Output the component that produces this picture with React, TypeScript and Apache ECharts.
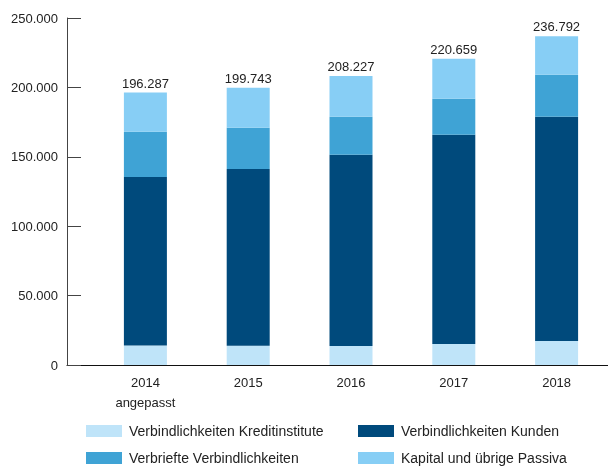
import React, { useEffect, useRef } from "react";
import * as echarts from "echarts";

const categories = ["2014\nangepasst", "2015", "2016", "2017", "2018"];
const seriesNames = [
  "Verbindlichkeiten Kreditinstitute",
  "Verbindlichkeiten Kunden",
  "Verbriefte Verbindlichkeiten",
  "Kapital und übrige Passiva",
];
const kreditinstitute = [14000, 13900, 13700, 15100, 17300];
const kunden = [121500, 127400, 137700, 150700, 161500];
const verbriefte = [32500, 29600, 27400, 26000, 30300];
const kapital = [28287, 28843, 29427, 28859, 27692];
const totals = [196287, 199743, 208227, 220659, 236792];
const yTicks = [0, 50000, 100000, 150000, 200000, 250000];
const colors = ["#bfe4f9", "#004a7c", "#3fa3d5", "#87cef5"];

const FONT = "'Liberation Sans', Arial, sans-serif";
const fmt = (v: number) =>
  String(Math.round(v)).replace(/\B(?=(\d{3})+(?!\d))/g, ".");

export default function App() {
  const ref = useRef<HTMLDivElement>(null);
  useEffect(() => {
    if (!ref.current) return;
    const chart = echarts.init(ref.current, undefined, { renderer: "svg" });
    const data = [kreditinstitute, kunden, verbriefte, kapital];
    const legendBase = {
      top: 424,
      height: 60,
      width: 260,
      orient: "vertical",
      icon: "rect",
      itemWidth: 36,
      itemHeight: 12,
      itemGap: 13,
      padding: 0,
      textStyle: { fontSize: 14, color: "#222", fontFamily: FONT, padding: [0, 0, 0, 2] },
    };
    chart.setOption({
      animation: false,
      textStyle: { fontFamily: FONT },
      grid: [
        { left: 94, width: 522, top: 18, bottom: 101 },
        { left: 67, width: 541, top: 18, bottom: 101 },
      ],
      legend: [
        { ...legendBase, left: 86, data: [seriesNames[0], seriesNames[2]] },
        { ...legendBase, left: 358, data: [seriesNames[1], seriesNames[3]] },
      ],
      xAxis: [
        {
          type: "category",
          gridIndex: 0,
          data: categories,
          axisLine: { show: false },
          axisTick: { show: false },
          axisLabel: {
            fontSize: 13,
            color: "#222",
            lineHeight: 20,
            margin: 7,
            fontFamily: FONT,
          },
        },
        {
          type: "value",
          gridIndex: 1,
          min: 0,
          max: 1,
          axisLine: { show: true, lineStyle: { color: "#111", width: 1 } },
          axisTick: { show: false },
          axisLabel: { show: false },
          splitLine: { show: false },
        },
      ],
      yAxis: [
        {
          type: "value",
          gridIndex: 0,
          min: 0,
          max: 250000,
          interval: 50000,
          show: false,
          splitLine: { show: false },
        },
        {
          type: "value",
          gridIndex: 1,
          min: yTicks[0],
          max: yTicks[yTicks.length - 1],
          interval: 50000,
          axisLine: { show: true, lineStyle: { color: "#444", width: 1 } },
          axisTick: { show: true, inside: true, length: 14, lineStyle: { color: "#444" } },
          splitLine: { show: false },
          axisLabel: {
            fontSize: 13,
            color: "#222",
            margin: 9,
            fontFamily: FONT,
            formatter: (v: number) => fmt(v),
          },
        },
      ],
      series: seriesNames.map((name, i) => ({
        name,
        type: "bar",
        stack: "total",
        xAxisIndex: 0,
        yAxisIndex: 0,
        barWidth: 43,
        data: data[i],
        itemStyle: { color: colors[i] },
        label:
          i === 3
            ? {
                show: true,
                position: "top",
                distance: 3,
                fontSize: 13,
                color: "#222",
                fontFamily: FONT,
                formatter: (p: any) => fmt(totals[p.dataIndex]),
              }
            : { show: false },
      })),
    });
    return () => chart.dispose();
  }, []);
  return (
    <div
      ref={ref}
      style={{ position: "fixed", left: 0, top: 0, width: 608, height: 466 }}
    />
  );
}
